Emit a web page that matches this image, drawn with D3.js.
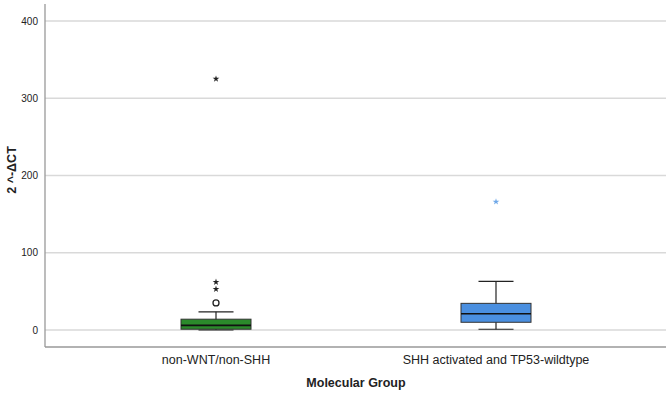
<!DOCTYPE html>
<html>
<head>
<meta charset="utf-8">
<script src="https://cdn.jsdelivr.net/npm/d3@7"></script>
<style>
  body { margin: 0; background: #fff; }
  text { font-family: Arial, "Liberation Sans", sans-serif; fill: #222; }
</style>
</head>
<body>
<div id="chart"></div>
<script>
// Data
const groups = ["non-WNT/non-SHH", "SHH activated and TP53-wildtype"];
const whiskerLow = [0, 1];
const q1 = [1, 10];
const medians = [6, 21];
const q3 = [14, 34.5];
const whiskerHigh = [23.5, 63];
const colors = ["#2b8a2b", "#4a8fe0"];
const starColors = ["#222", "#6fa8e8"];
// outliers: [group index, value, type]
const outliers = [
    [0, 35, "circle"],
    [0, 53, "star"],
    [0, 62, "star"],
    [0, 325, "star"],
    [1, 166, "star"]
];
const yTicks = [0, 100, 200, 300, 400];

// Dimensions
const W = 669, H = 395;
const plot = { left: 45, right: 666, top: 4, bottom: 347 };

const svg = d3.select("#chart")
    .append("svg")
    .attr("width", W)
    .attr("height", H);

// Scales
const x = d3.scaleBand()
    .domain(groups)
    .range([76, 636]);

const y = d3.scaleLinear()
    .domain([0, 400])
    .range([330, 21]);

// Grid lines
svg.append("g")
    .selectAll("line")
    .data(yTicks)
    .enter().append("line")
    .attr("x1", plot.left)
    .attr("x2", plot.right)
    .attr("y1", d => y(d))
    .attr("y2", d => y(d))
    .attr("stroke", "#d9d9d9")
    .attr("stroke-width", 1.3);

// Y axis
const yAxis = svg.append("g")
    .attr("transform", `translate(${plot.left},0)`)
    .call(d3.axisLeft(y).tickValues(yTicks).tickSize(0).tickPadding(7));
yAxis.select(".domain").remove();
yAxis.selectAll("text").style("font-size", "10px").attr("fill", "#333");

svg.append("line")
    .attr("x1", plot.left).attr("x2", plot.left)
    .attr("y1", plot.top).attr("y2", plot.bottom)
    .attr("stroke", "#999").attr("stroke-width", 1.3);

svg.append("line")
    .attr("x1", plot.left).attr("x2", plot.right)
    .attr("y1", plot.bottom).attr("y2", plot.bottom)
    .attr("stroke", "#999").attr("stroke-width", 1.3);

// X axis labels
svg.append("g")
    .selectAll("text")
    .data(groups)
    .enter().append("text")
    .attr("x", d => x(d) + x.bandwidth() / 2)
    .attr("y", 364)
    .attr("text-anchor", "middle")
    .style("font-size", "12.5px")
    .attr("fill", "#333")
    .text(d => d);

// Axis titles
svg.append("text")
    .attr("x", 356)
    .attr("y", 387)
    .attr("text-anchor", "middle")
    .style("font-size", "12.5px")
    .style("font-weight", "bold")
    .text("Molecular Group");

svg.append("text")
    .attr("transform", "translate(16,170) rotate(-90)")
    .attr("text-anchor", "middle")
    .style("font-size", "12.5px")
    .style("font-weight", "bold")
    .text("2 ^-ΔCT");

// Boxes
const boxW = 70, capW = 35;
const boxes = svg.append("g")
    .selectAll("g")
    .data(groups)
    .enter().append("g")
    .attr("transform", d => `translate(${x(d) + x.bandwidth() / 2},0)`);

boxes.append("line")
    .attr("x1", 0).attr("x2", 0)
    .attr("y1", (d, i) => y(whiskerLow[i]))
    .attr("y2", (d, i) => y(whiskerHigh[i]))
    .attr("stroke", "#222").attr("stroke-width", 1.2);

boxes.append("line")
    .attr("x1", -capW / 2).attr("x2", capW / 2)
    .attr("y1", (d, i) => y(whiskerHigh[i]))
    .attr("y2", (d, i) => y(whiskerHigh[i]))
    .attr("stroke", "#222").attr("stroke-width", 1.2);

boxes.append("line")
    .attr("x1", -capW / 2).attr("x2", capW / 2)
    .attr("y1", (d, i) => y(whiskerLow[i]))
    .attr("y2", (d, i) => y(whiskerLow[i]))
    .attr("stroke", "#222").attr("stroke-width", 1.2);

boxes.append("rect")
    .attr("x", -boxW / 2)
    .attr("width", boxW)
    .attr("y", (d, i) => y(q3[i]))
    .attr("height", (d, i) => y(q1[i]) - y(q3[i]))
    .attr("fill", (d, i) => colors[i])
    .attr("stroke", "#333").attr("stroke-width", 1);

boxes.append("line")
    .attr("x1", -boxW / 2).attr("x2", boxW / 2)
    .attr("y1", (d, i) => y(medians[i]))
    .attr("y2", (d, i) => y(medians[i]))
    .attr("stroke", "#111").attr("stroke-width", 1.6);

// Outliers
const cx = d => x(groups[d[0]]) + x.bandwidth() / 2;

svg.selectAll(".circ")
    .data(outliers.filter(d => d[2] === "circle"))
    .enter().append("circle")
    .attr("cx", cx)
    .attr("cy", d => y(d[1]))
    .attr("r", 3)
    .attr("fill", "none")
    .attr("stroke", "#222").attr("stroke-width", 1.3);

svg.selectAll(".star")
    .data(outliers.filter(d => d[2] === "star"))
    .enter().append("path")
    .attr("d", d3.symbol().type(d3.symbolStar).size(14))
    .attr("transform", d => `translate(${cx(d)},${y(d[1])})`)
    .attr("fill", d => starColors[d[0]]);
</script>
</body>
</html>
